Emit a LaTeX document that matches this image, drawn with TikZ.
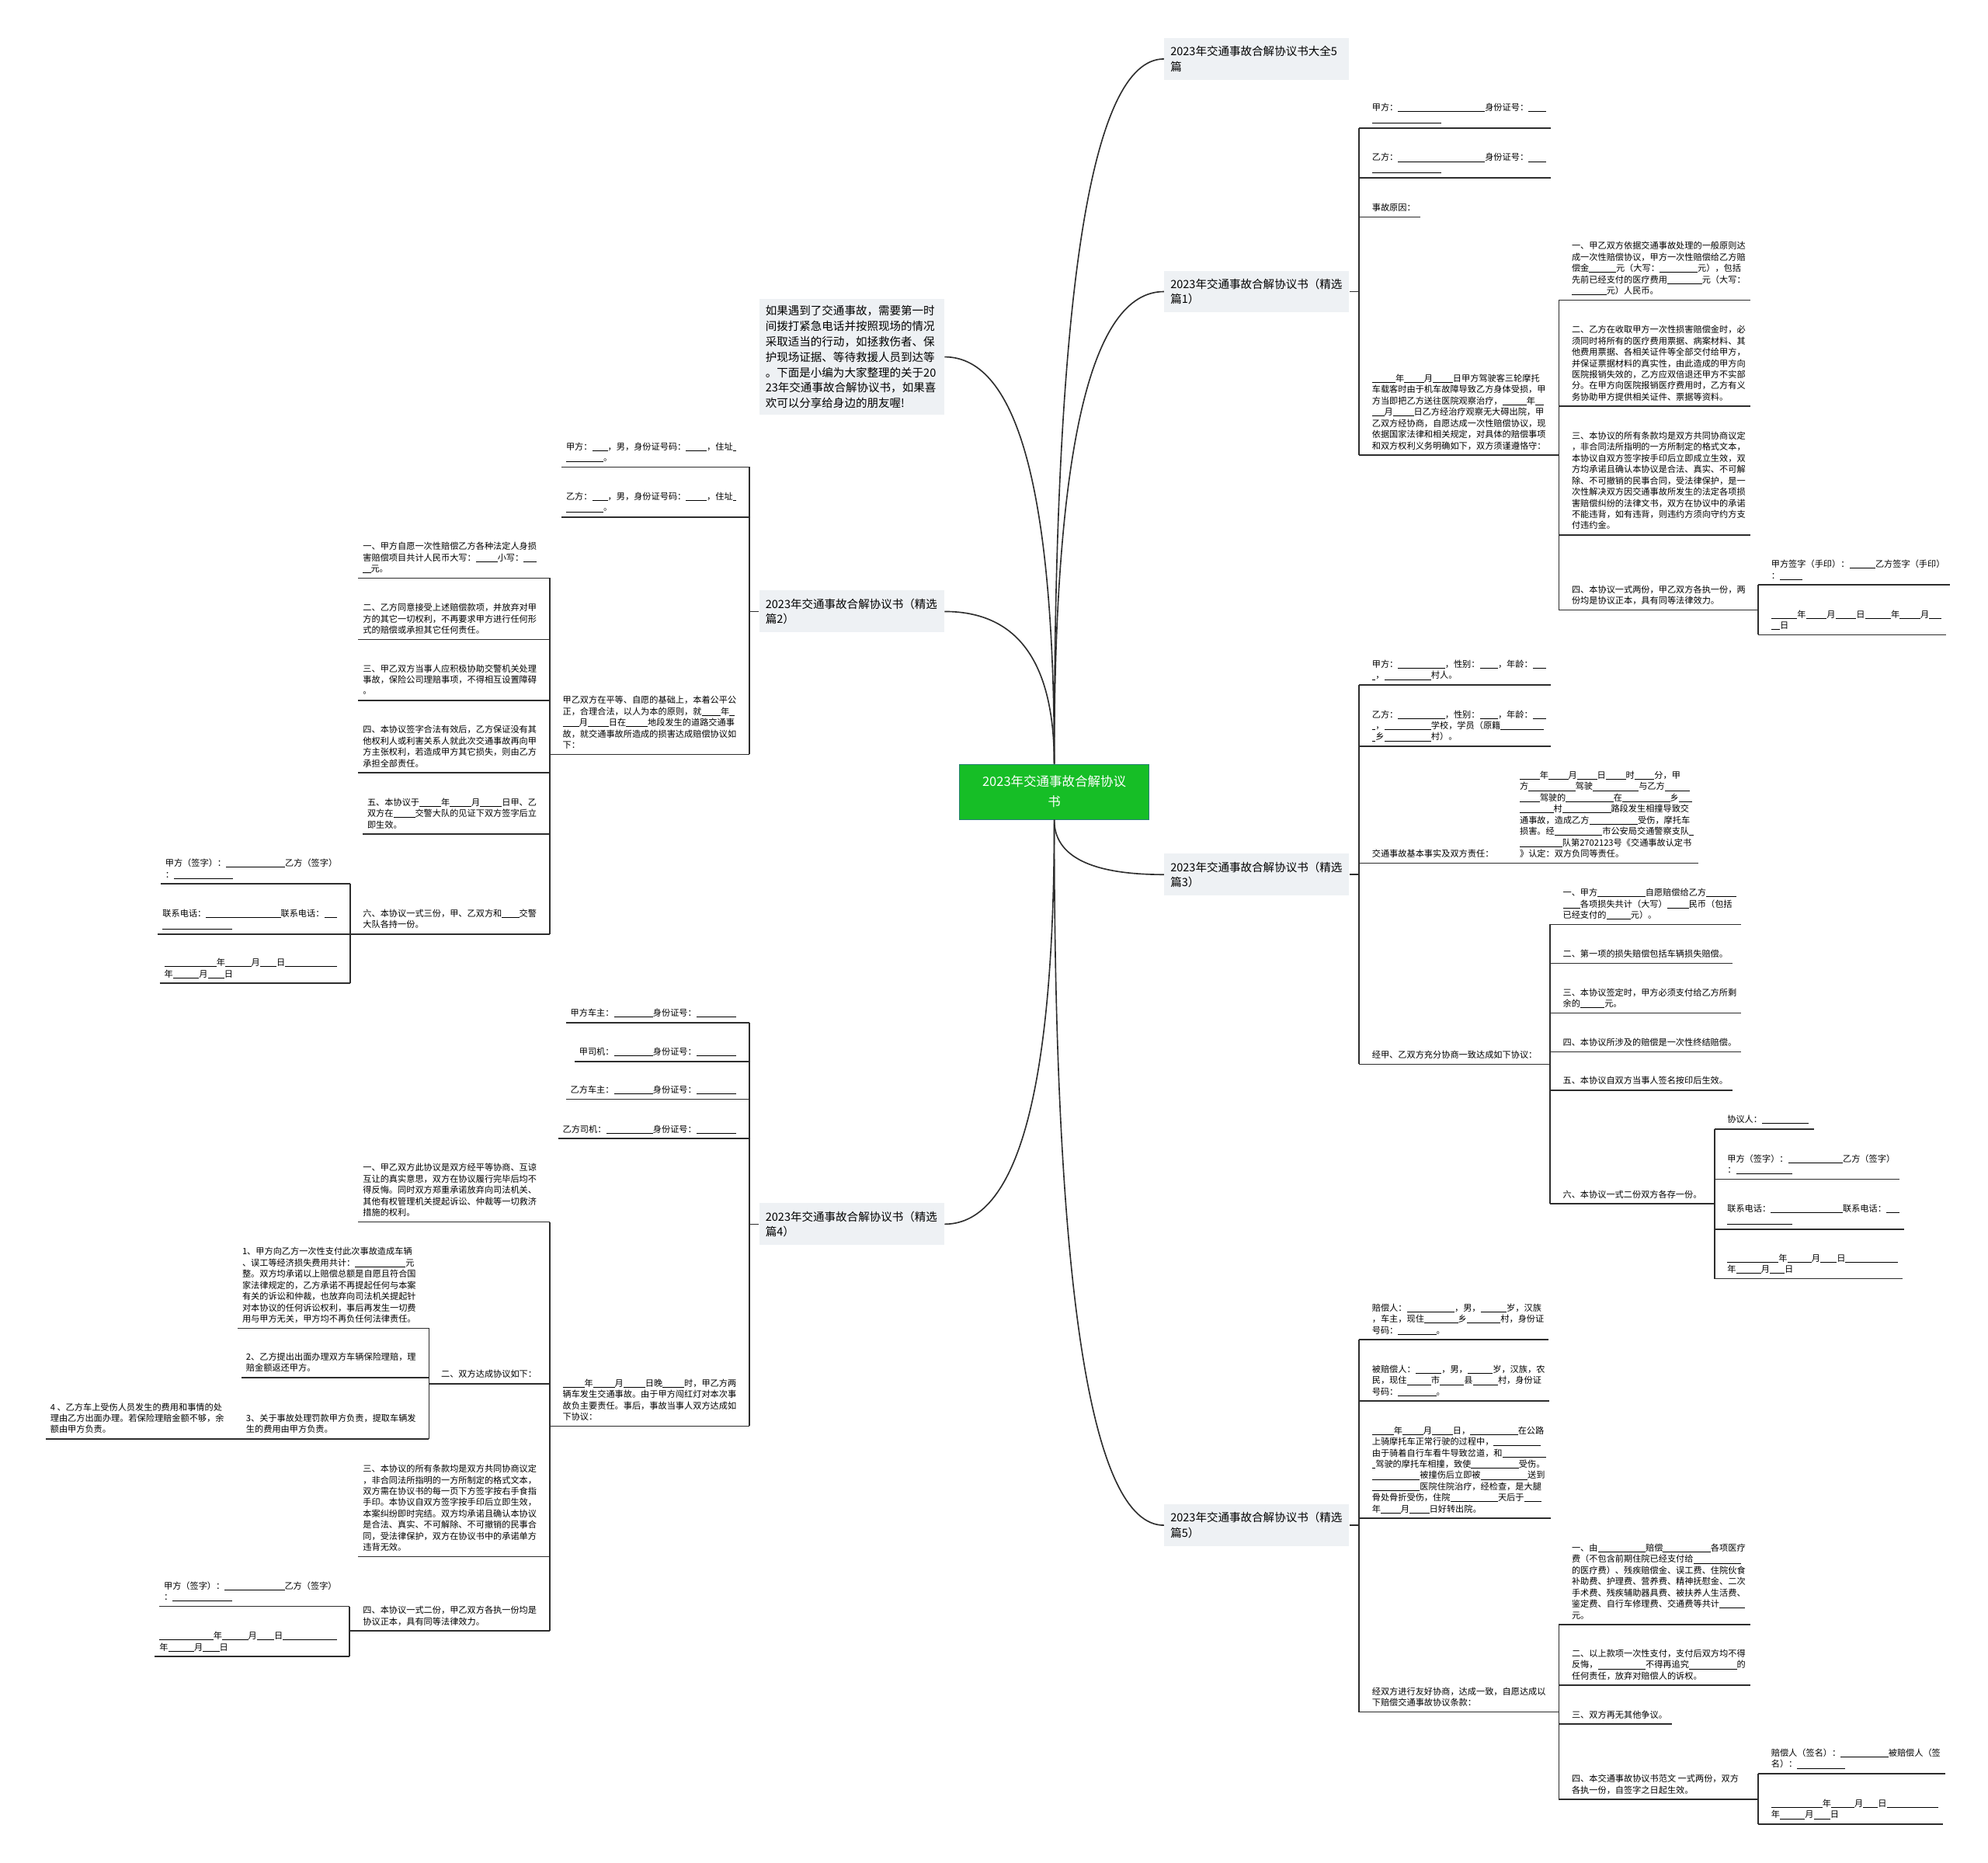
\documentclass[tikz,border=0pt]{standalone}
\usepackage{fontspec}
\setmainfont{Noto Sans CJK SC}
\usetikzlibrary{positioning,calc}

\definecolor{rootgreen}{RGB}{22,190,38}
\definecolor{rootedge}{RGB}{40,128,118}
\definecolor{topicgray}{RGB}{238,241,244}
\definecolor{linkgray}{RGB}{45,45,45}

\newcommand{\fillin}[1]{\rule[-0.14em]{#1em}{0.08em}}
\newcommand{\rtab}[1]{\begin{tabular}{@{\hspace{10pt}}l@{\hspace{3.5pt}}}#1\end{tabular}}
\newcommand{\ltab}[1]{\begin{tabular}{@{\hspace{3.5pt}}l@{\hspace{10pt}}}#1\end{tabular}}

\begin{document}
\begin{tikzpicture}[x=1pt,y=-1pt,
  line/.style={draw=linkgray,line width=1pt},
  link/.style={draw=linkgray,line width=1pt},
  branch/.style={to path={.. controls ($(\tikztostart)!.667!(\tikztostart |- \tikztotarget)$) and ($(\tikztotarget)!.667!(\tikztostart |- \tikztotarget)$) .. (\tikztotarget)}},
  root/.style={fill=rootgreen,draw=rootedge,line width=0.6pt,text=white,align=center,font=\fontsize{10.1}{15.9}\selectfont,minimum width=149.6pt,minimum height=43.5pt,inner sep=2pt},
  topic/.style={fill=topicgray,align=left,text width=136pt,inner xsep=5pt,inner ysep=4pt,minimum height=33pt,font=\fontsize{8.9}{11.8}\selectfont},
  topicR/.style={topic,anchor=west},
  topicL/.style={topic,anchor=east},
  leaf/.style={inner xsep=0pt,inner ysep=2pt,font=\fontsize{6.85}{8.84}\selectfont},
  leafR/.style={leaf,anchor=south west},
  leafL/.style={leaf,anchor=south east}]
\useasboundingbox (0,0) rectangle (1568,1469);

\node[root] (root) at (831.5,624.5) {2023年交通事故合解协议\\书};

\node[topicR] (r0) at (918,46.5) {2023年交通事故合解协议书大全5\\篇};
\node[topicR] (r1) at (918,230) {2023年交通事故合解协议书（精选\\篇1）};
\node[topicR] (r3) at (918,689.8) {2023年交通事故合解协议书（精选\\篇3）};
\node[topicR] (r5) at (918,1203) {2023年交通事故合解协议书（精选\\篇5）};
\node[topicL,font=\fontsize{8.9}{12.2}\selectfont,inner ysep=5pt] (intro) at (745,281.5) {如果遇到了交通事故，需要第一时\\间拨打紧急电话并按照现场的情况\\采取适当的行动，如拯救伤者、保\\护现场证据、等待救援人员到达等\\。下面是小编为大家整理的关于20\\23年交通事故合解协议书，如果喜\\欢可以分享给身边的朋友喔!};
\node[topicL] (l2) at (745,482.3) {2023年交通事故合解协议书（精选\\篇2）};
\node[topicL] (l4) at (745,965.5) {2023年交通事故合解协议书（精选\\篇4）};

\draw[link] (root.north) to[branch] (r0.west);
\draw[link] (root.north) to[branch] (r1.west);
\draw[link] (root.north) to[branch] (intro.east);
\draw[link] (root.north) to[branch] (l2.east);
\draw[link] (root.south) to[branch] (r3.west);
\draw[link] (root.south) to[branch] (r5.west);
\draw[link] (root.south) to[branch] (l4.east);

\node[leafR] (r1a) at (1072,101) {\rtab{甲方：\fillin{10}身份证号：\fillin{2}\\\fillin{8}}};
\node[leafR] (r1b) at (1072,140.4) {\rtab{乙方：\fillin{10}身份证号：\fillin{2}\\\fillin{8}}};
\node[leafR] (r1c) at (1072,171.1) {\rtab{事故原因：}};
\node[leafR] (r1d) at (1072,358.9) {\rtab{\fillin{2.7}年\fillin{2.3}月\fillin{2.3}日甲方驾驶客三轮摩托\\车载客时由于机车故障导致乙方身体受损，甲\\方当即把乙方送往医院观察治疗，\fillin{2.8}年\fillin{1}\\\fillin{1.4}月\fillin{2.4}日乙方经治疗观察无大碍出院，甲\\乙双方经协商，自愿达成一次性赔偿协议，现\\依据国家法律和相关规定，对具体的赔偿事项\\和双方权利义务明确如下，双方须谨遵恪守：}};
\node[leafR] (r1d1) at (1229.5,236.8) {\rtab{一、甲乙双方依据交通事故处理的一般原则达\\成一次性赔偿协议，甲方一次性赔偿给乙方赔\\偿金\fillin{3.1}元（大写：\fillin{4.4}元），包括\\先前已经支付的医疗费用\fillin{4}元（大写：\\\fillin{4}元）人民币。}};
\node[leafR] (r1d2) at (1229.5,320.5) {\rtab{二、乙方在收取甲方一次性损害赔偿金时，必\\须同时将所有的医疗费用票据、病案材料、其\\他费用票据、各相关证件等全部交付给甲方，\\并保证票据材料的真实性，由此造成的甲方向\\医院报销失效的，乙方应双倍退还甲方不实部\\分。在甲方向医院报销医疗费用时，乙方有义\\务协助甲方提供相关证件、票据等资料。}};
\node[leafR] (r1d3) at (1229.5,421.9) {\rtab{三、本协议的所有条款均是双方共同协商议定\\，非合同法所指明的一方所制定的格式文本，\\本协议自双方签字按手印后立即成立生效，双\\方均承诺且确认本协议是合法、真实、不可解\\除、不可撤销的民事合同，受法律保护，是一\\次性解决双方因交通事故所发生的法定各项损\\害赔偿纠纷的法律文书，双方在协议中的承诺\\不能违背，如有违背，则违约方须向守约方支\\付违约金。}};
\node[leafR] (r1d4) at (1229.5,481.1) {\rtab{四、本协议一式两份，甲乙双方各执一份，两\\份均是协议正本，具有同等法律效力。}};
\node[leafR] (r1s1) at (1386.8,461.3) {\rtab{甲方签字（手印）：\fillin{3}乙方签字（手印）\\：\fillin{2.6}}};
\node[leafR] (r1s2) at (1386.8,500.7) {\rtab{\fillin{3}年\fillin{2.4}月\fillin{2.4}日\fillin{3}年\fillin{2.4}月\fillin{1.4}\\\fillin{1}日}};

\node[leafR] (r3a) at (1072,540.1) {\rtab{甲方：\fillin{5.4}，性别：\fillin{2.1}，年龄：\fillin{1.5}\\\fillin{0.4}，\fillin{5.4}村人。}};
\node[leafR] (r3b) at (1072,588.5) {\rtab{乙方：\fillin{5.4}，性别：\fillin{2.1}，年龄：\fillin{1.5}\\\fillin{0.4}，\fillin{5.4}学校，学员（原籍\fillin{5}\\\fillin{0.4}乡\fillin{5.4}村）。}};
\node[leafR] (r3c) at (1072,680.7) {\rtab{交通事故基本事实及双方责任：}};
\node[leafR] (r3c1) at (1188.5,680.7) {\rtab{\fillin{2.3}年\fillin{2.3}月\fillin{2.3}日\fillin{2.3}时\fillin{2.3}分，甲\\方\fillin{5.4}驾驶\fillin{5.3}与乙方\fillin{2.9}\\\fillin{2.3}驾驶的\fillin{5.5}在\fillin{5.5}乡\fillin{1.5}\\\fillin{3.9}村\fillin{5.6}路段发生相撞导致交\\通事故，造成乙方\fillin{5.6}受伤，摩托车\\损害。经\fillin{5.5}市公安局交通警察支队\fillin{0.5}\\\fillin{4.9}队第2702123号《交通事故认定书\\》认定：双方负同等责任。}};
\node[leafR] (r3d) at (1072,839.4) {\rtab{经甲、乙双方充分协商一致达成如下协议：}};
\node[leafR] (r3d1) at (1222.5,729.1) {\rtab{一、甲方\fillin{5.5}自愿赔偿给乙方\fillin{3.5}\\\fillin{2}各项损失共计（大写）\fillin{2.5}民币（包括\\已经支付的\fillin{2.8}元）。}};
\node[leafR] (r3d2) at (1222.5,759.7) {\rtab{二、第一项的损失赔偿包括车辆损失赔偿。}};
\node[leafR] (r3d3) at (1222.5,799.1) {\rtab{三、本协议签定时，甲方必须支付给乙方所剩\\余的\fillin{2.8}元。}};
\node[leafR] (r3d4) at (1222.5,829.7) {\rtab{四、本协议所涉及的赔偿是一次性终结赔偿。}};
\node[leafR] (r3d5) at (1222.5,859.8) {\rtab{五、本协议自双方当事人签名按印后生效。}};
\node[leafR] (r3d6) at (1222.5,949.4) {\rtab{六、本协议一式二份双方各存一份。}};
\node[leafR] (r3s1) at (1352.2,890.4) {\rtab{协议人：\fillin{5.4}}};
\node[leafR] (r3s2) at (1352.2,930.1) {\rtab{甲方（签字）：\fillin{6.3}乙方（签字）\\：\fillin{6.5}}};
\node[leafR] (r3s3) at (1352.2,969.5) {\rtab{联系电话：\fillin{8.3}联系电话：\fillin{1.5}\\\fillin{7.5}}};
\node[leafR] (r3s4) at (1352.2,1008.5) {\rtab{\fillin{5.9}年\fillin{2.8}月\fillin{1.9}日\fillin{6}\\年\fillin{2.9}月\fillin{1.7}日}};

\node[leafR] (r5a) at (1072,1056.6) {\rtab{赔偿人：\fillin{5.5}，男，\fillin{3}岁，汉族\\，车主，现住\fillin{3.9}乡\fillin{3.9}村，身份证\\号码：\fillin{4.4}。}};
\node[leafR] (r5b) at (1072,1105.1) {\rtab{被赔偿人：\fillin{3}，男，\fillin{2.9}岁，汉族，农\\民，现住\fillin{2.8}市\fillin{2.8}县\fillin{2.9}村，身份证\\号码：\fillin{4.4}。}};
\node[leafR] (r5c) at (1072,1197.5) {\rtab{\fillin{2.5}年\fillin{2.4}月\fillin{2.4}日，\fillin{5.5}在公路\\上骑摩托车正常行驶的过程中，\fillin{5.4}\\由于骑着自行车看牛导致岔道，和\fillin{5}\\\fillin{0.4}驾驶的摩托车相撞，致使\fillin{5.5}受伤。\\\fillin{5.5}被撞伤后立即被\fillin{5.4}送到\\\fillin{5.5}医院住院治疗，经检查，是大腿\\骨处骨折受伤，住院\fillin{5.5}天后于\fillin{2}\\年\fillin{2.3}月\fillin{2.3}日好转出院。}};
\node[leafR] (r5d) at (1072,1350.3) {\rtab{经双方进行友好协商，达成一致，自愿达成以\\下赔偿交通事故协议条款：}};
\node[leafR] (r5d1) at (1229.5,1281.3) {\rtab{一、由\fillin{5.5}赔偿\fillin{5.5}各项医疗\\费（不包含前期住院已经支付给\fillin{5.5}\\的医疗费）、残疾赔偿金、误工费、住院伙食\\补助费、护理费、营养费、精神抚慰金、二次\\手术费、残疾辅助器具费、被扶养人生活费、\\鉴定费、自行车修理费、交通费等共计\fillin{2.9}\\元。}};
\node[leafR] (r5d2) at (1229.5,1329.3) {\rtab{二、以上款项一次性支付，支付后双方均不得\\反悔，\fillin{5.5}不得再追究\fillin{5.5}的\\任何责任，放弃对赔偿人的诉权。}};
\node[leafR] (r5d3) at (1229.5,1359.9) {\rtab{三、双方再无其他争议。}};
\node[leafR] (r5d4) at (1229.5,1419.1) {\rtab{四、本交通事故协议书范文 一式两份，双方\\各执一份，自签字之日起生效。}};
\node[leafR] (r5s1) at (1386.8,1398.8) {\rtab{赔偿人（签名）：\fillin{5.5}被赔偿人（签\\名）：\fillin{5.5}}};
\node[leafR] (r5s2) at (1386.8,1438.6) {\rtab{\fillin{5.9}年\fillin{2.7}月\fillin{1.7}日\fillin{5.9}\\年\fillin{2.9}月\fillin{1.9}日}};

\node[leafL] (l2a) at (591,368.4) {\ltab{甲方：\fillin{1.8}，男，身份证号码：\fillin{2.4}，住址\fillin{0.4}\\\fillin{4.3}。}};
\node[leafL] (l2b) at (591,407.8) {\ltab{乙方：\fillin{1.8}，男，身份证号码：\fillin{2.4}，住址\fillin{0.4}\\\fillin{4.3}。}};
\node[leafL] (l2c) at (591,595) {\ltab{甲乙双方在平等、自愿的基础上，本着公平公\\正，合理合法，以人为本的原则，就\fillin{2.2}年\fillin{0.6}\\\fillin{1.9}月\fillin{2.4}日在\fillin{2.5}地段发生的道路交通事\\故，就交通事故所造成的损害达成赔偿协议如\\下：}};
\node[leafL] (l2c1) at (433.5,456) {\ltab{一、甲方自愿一次性赔偿乙方各种法定人身损\\害赔偿项目共计人民币大写：\fillin{2.5}小写：\fillin{1.5}\\\fillin{0.9}元。}};
\node[leafL] (l2c2) at (433.5,504.4) {\ltab{二、乙方同意接受上述赔偿款项，并放弃对甲\\方的其它一切权利，不再要求甲方进行任何形\\式的赔偿或承担其它任何责任。}};
\node[leafL] (l2c3) at (433.5,552.4) {\ltab{三、甲乙双方当事人应积极协助交警机关处理\\事故，保险公司理赔事项，不得相互设置障碍\\。}};
\node[leafL] (l2c4) at (433.5,609.5) {\ltab{四、本协议签字合法有效后，乙方保证没有其\\他权利人或利害关系人就此次交通事故再向甲\\方主张权利，若造成甲方其它损失，则由乙方\\承担全部责任。}};
\node[leafL] (l2c5) at (433.5,657.9) {\ltab{五、本协议于\fillin{2.5}年\fillin{2.5}月\fillin{2.5}日甲、乙\\双方在\fillin{2.5}交警大队的见证下双方签字后立\\即生效。}};
\node[leafL] (l2c6) at (433.5,736.7) {\ltab{六、本协议一式三份，甲、乙双方和\fillin{2}交警\\大队各持一份。}};
\node[leafL] (l2s1) at (276.2,697) {\ltab{甲方（签字）：\fillin{6.8}乙方（签字）\\：\fillin{6.8}}};
\node[leafL] (l2s2) at (276.2,736.7) {\ltab{联系电话：\fillin{8.6}联系电话：\fillin{1.5}\\\fillin{8}}};
\node[leafL] (l2s3) at (276.2,775.4) {\ltab{\fillin{6}年\fillin{3}月\fillin{1.9}日\fillin{6}\\年\fillin{3}月\fillin{1.9}日}};

\node[leafL] (l4a) at (591,806.5) {\ltab{甲方车主：\fillin{4.5}身份证号：\fillin{4.6}}};
\node[leafL] (l4b) at (591,837.1) {\ltab{甲司机：\fillin{4.5}身份证号：\fillin{4.6}}};
\node[leafL] (l4c) at (591,867) {\ltab{乙方车主：\fillin{4.5}身份证号：\fillin{4.6}}};
\node[leafL] (l4d) at (591,898) {\ltab{乙方司机：\fillin{5.4}身份证号：\fillin{4.6}}};
\node[leafL] (l4e) at (591,1124.8) {\ltab{\fillin{2.5}年\fillin{2.5}月\fillin{2.5}日晚\fillin{2.5}时，甲乙方两\\辆车发生交通事故。由于甲方闯红灯对本次事\\故负主要责任。事后，事故当事人双方达成如\\下协议：}};
\node[leafL] (l4e1) at (433.5,963.8) {\ltab{一、甲乙双方此协议是双方经平等协商、互谅\\互让的真实意思，双方在协议履行完毕后均不\\得反悔。同时双方郑重承诺放弃向司法机关、\\其他有权管理机关提起诉讼、仲裁等一切救济\\措施的权利。}};
\node[leafL] (l4e2) at (433.5,1091.3) {\ltab{二、双方达成协议如下：}};
\node[leafL] (l4e2a) at (338.3,1047.6) {\ltab{1、甲方向乙方一次性支付此次事故造成车辆\\、误工等经济损失费用共计：\fillin{5.8}元\\整。双方均承诺以上赔偿总额是自愿且符合国\\家法律规定的，乙方承诺不再提起任何与本案\\有关的诉讼和仲裁，也放弃向司法机关提起针\\对本协议的任何诉讼权利，事后再发生一切费\\用与甲方无关，甲方均不再负任何法律责任。}};
\node[leafL] (l4e2b) at (338.3,1086.5) {\ltab{2、乙方提出出面办理双方车辆保险理赔，理\\赔金额返还甲方。}};
\node[leafL] (l4e2c) at (338.3,1134.9) {\ltab{3、关于事故处理罚款甲方负责，提取车辆发\\生的费用由甲方负责。}};
\node[leafL] (l4e2c1) at (186.9,1134.9) {\ltab{4 、乙方车上受伤人员发生的费用和事情的处\\理由乙方出面办理。若保险理赔金额不够，余\\额由甲方负责。}};
\node[leafL] (l4e3) at (433.5,1227.8) {\ltab{三、本协议的所有条款均是双方共同协商议定\\，非合同法所指明的一方所制定的格式文本，\\双方需在协议书的每一页下方签字按右手食指\\手印。本协议自双方签字按手印后立即生效，\\本案纠纷即时完结。双方均承诺且确认本协议\\是合法、真实、不可解除、不可撤销的民事合\\同，受法律保护，双方在协议书中的承诺单方\\违背无效。}};
\node[leafL] (l4e4) at (433.5,1286.4) {\ltab{四、本协议一式二份，甲乙双方各执一份均是\\协议正本，具有同等法律效力。}};
\node[leafL] (l4s1) at (275.8,1267) {\ltab{甲方（签字）：\fillin{6.9}乙方（签字）\\：\fillin{6.9}}};
\node[leafL] (l4s2) at (275.8,1306.4) {\ltab{\fillin{6.2}年\fillin{3}月\fillin{2}日\fillin{6.2}\\年\fillin{3}月\fillin{1.9}日}};

\foreach \n in {r1a,r1b,r1c,r1d,r1d1,r1d2,r1d3,r1d4,r1s1,r1s2,
  r3a,r3b,r3c,r3c1,r3d,r3d1,r3d2,r3d3,r3d4,r3d5,r3d6,r3s1,r3s2,r3s3,r3s4,
  r5a,r5b,r5c,r5d,r5d1,r5d2,r5d3,r5d4,r5s1,r5s2,
  l2a,l2b,l2c,l2c1,l2c2,l2c3,l2c4,l2c5,l2c6,l2s1,l2s2,l2s3,
  l4a,l4b,l4c,l4d,l4e,l4e1,l4e2,l4e2a,l4e2b,l4e2c,l4e2c1,l4e3,l4e4,l4s1,l4s2}
  \draw[line] (\n.south west) -- (\n.south east);

\draw[line] (r1.east) -- (r1.east -| r1a.south west) (r1a.south west) -- (r1d.south west);
\draw[line] (r1d.south east) -- (r1d.south east -| r1d1.south west) (r1d1.south west) -- (r1d4.south west);
\draw[line] (r1d4.south east) -- (r1d4.south east -| r1s1.south west) (r1s1.south west) -- (r1s2.south west);

\draw[line] (r3.east) -- (r3.east -| r3a.south west) (r3a.south west) -- (r3d.south west);
\draw[line] (r3c.south east) -- (r3c1.south west);
\draw[line] (r3d.south east) -- (r3d.south east -| r3d1.south west) (r3d1.south west) -- (r3d6.south west);
\draw[line] (r3d6.south east) -- (r3d6.south east -| r3s1.south west) (r3s1.south west) -- (r3s4.south west);

\draw[line] (r5.east) -- (r5.east -| r5a.south west) (r5a.south west) -- (r5d.south west);
\draw[line] (r5d.south east) -- (r5d.south east -| r5d1.south west) (r5d1.south west) -- (r5d4.south west);
\draw[line] (r5d4.south east) -- (r5d4.south east -| r5s1.south west) (r5s1.south west) -- (r5s2.south west);

\draw[line] (l2.west) -- (l2.west -| l2a.south east) (l2a.south east) -- (l2c.south east);
\draw[line] (l2c.south west) -- (l2c.south west -| l2c1.south east) (l2c1.south east) -- (l2c6.south east);
\draw[line] (l2c6.south west) -- (l2c6.south west -| l2s1.south east) (l2s1.south east) -- (l2s3.south east);

\draw[line] (l4.west) -- (l4.west -| l4a.south east) (l4a.south east) -- (l4e.south east);
\draw[line] (l4e.south west) -- (l4e.south west -| l4e1.south east) (l4e1.south east) -- (l4e4.south east);
\draw[line] (l4e2.south west) -- (l4e2.south west -| l4e2a.south east) (l4e2a.south east) -- (l4e2c.south east);
\draw[line] (l4e2c.south west) -- (l4e2c1.south east);
\draw[line] (l4e4.south west) -- (l4e4.south west -| l4s1.south east) (l4s1.south east) -- (l4s2.south east);
\end{tikzpicture}
\end{document}
